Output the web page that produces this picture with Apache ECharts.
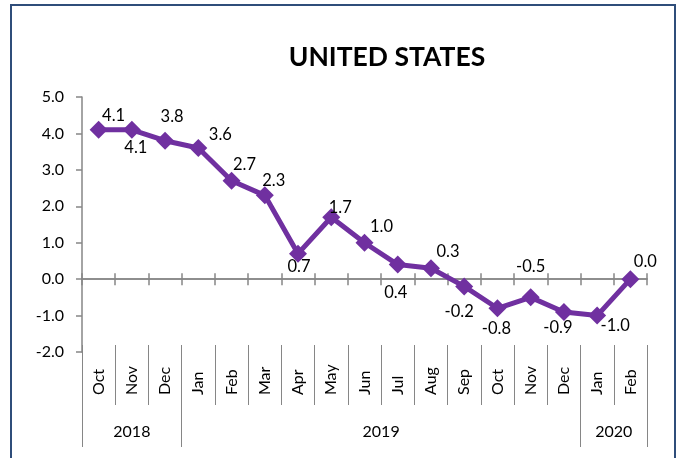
<!DOCTYPE html>
<html>
<head>
<meta charset="utf-8">
<script src="https://cdn.jsdelivr.net/npm/echarts@6/dist/echarts.min.js"></script>
<style>
  html, body { margin: 0; padding: 0; background: #fff; }
  #chart { position: absolute; left: 0; top: 0; width: 681px; height: 458px; }
  #frame { position: absolute; left: 10px; top: 4px; width: 666px; height: 470px; border: 2.5px solid #2f4d7a; box-sizing: border-box; pointer-events: none; z-index: 5; }
</style>
</head>
<body>
<div id="chart"></div>
<div id="frame"></div>
<script>
'use strict';
{
    // months shown on the category axis
    let months = ['Oct', 'Nov', 'Dec', 'Jan', 'Feb', 'Mar', 'Apr', 'May', 'Jun', 'Jul', 'Aug', 'Sep', 'Oct', 'Nov', 'Dec', 'Jan', 'Feb'];
    let values = [4.1, 4.1, 3.8, 3.6, 2.7, 2.3, 0.7, 1.7, 1.0, 0.4, 0.3, -0.2, -0.8, -0.5, -0.9, -1.0, 0.0];
    // year groups: label and index of the first month of each group
    let years = ['2018', '2019', '2020'];
    let yearStart = [0, 3, 15, 17];

    // where each data label sits relative to its point
    let labelOffset = [[15, -14], [4, 18], [7, -24], [22, -13], [13, -16], [9, -15], [1, 13], [9, -10], [17, -16],
        [-2, 28], [17, -17], [-5, 25], [-1, 20], [0, -31], [-6, 16], [18, 10], [15, -17]];

    let dom = document.getElementById('chart');
    let myChart = echarts.init(dom);
    let font = 'Lato';
    let grey = '#868686';

    let yearMid = [];
    for (let k = 0; k < years.length; k++) {
        yearMid.push((yearStart[k] + yearStart[k + 1]) / 2);
    }

    let option = {
        backgroundColor: '#fff',
        textStyle: { fontFamily: font },
        title: {
            text: 'UNITED STATES',
            left: 382,
            top: 39,
            textAlign: 'center',
            textStyle: { fontFamily: font, fontSize: 26.5, fontWeight: 'bold', color: '#000' }
        },
        grid: { left: 82, right: 34, top: 97, bottom: 106 },
        xAxis: [
            {
                // zero line, ticks pointing down
                type: 'category',
                data: months,
                position: 'bottom',
                axisLine: { onZero: true, onZeroAxisIndex: 0, lineStyle: { color: grey, width: 1.5 } },
                axisTick: { show: true, length: 6, lineStyle: { color: grey, width: 1.5 } },
                axisLabel: { show: false }
            },
            {
                // zero line, ticks pointing up
                type: 'category',
                data: months,
                position: 'top',
                axisLine: { onZero: true, onZeroAxisIndex: 1, lineStyle: { color: grey, width: 1.5 } },
                axisTick: { show: true, length: 6, lineStyle: { color: grey, width: 1.5 } },
                axisLabel: { show: false }
            },
            {
                // month labels below the plot
                type: 'category',
                data: months,
                position: 'bottom',
                offset: -7,
                axisLine: { show: false, onZero: false },
                axisTick: { show: true, length: 60, lineStyle: { color: grey, width: 1 } },
                axisLabel: { rotate: 90, align: 'left', margin: 50, fontSize: 16, color: '#000', fontFamily: font }
            },
            {
                // year groups
                type: 'value',
                min: 0,
                max: months.length,
                position: 'bottom',
                offset: -7,
                splitLine: { show: false },
                axisLine: { show: false, onZero: false },
                axisTick: { show: true, length: 102, customValues: yearStart, lineStyle: { color: grey, width: 1 } },
                axisLabel: {
                    margin: 79,
                    fontSize: 16,
                    color: '#000',
                    fontFamily: font,
                    customValues: yearMid,
                    formatter: function (v) {
                        let idx = yearMid.indexOf(v);
                        return idx >= 0 ? years[idx] : '';
                    }
                }
            }
        ],
        yAxis: [
            {
                type: 'value',
                min: -2,
                max: 5,
                interval: 1,
                position: 'left',
                splitLine: { show: false },
                axisLine: { show: true, onZero: false, lineStyle: { color: grey, width: 1.5 } },
                axisTick: { show: true, length: 6, lineStyle: { color: grey, width: 1.5 } },
                axisLabel: {
                    margin: 18,
                    fontSize: 16,
                    color: '#000',
                    fontFamily: font,
                    formatter: function (v) { return v.toFixed(1); }
                }
            },
            {
                // hidden twin, only so the second zero line can sit on it
                type: 'value',
                min: -2,
                max: 5,
                interval: 1,
                position: 'right',
                splitLine: { show: false },
                axisLine: { show: false, onZero: false },
                axisTick: { show: false },
                axisLabel: { show: false }
            }
        ],
        series: [{
            type: 'line',
            xAxisIndex: 0,
            yAxisIndex: 0,
            data: values.map(function (v, i) {
                return { value: v, label: { offset: labelOffset[i] } };
            }),
            symbol: 'diamond',
            symbolSize: 18,
            lineStyle: { color: '#7030a0', width: 5 },
            itemStyle: { color: '#7030a0' },
            label: {
                show: true,
                position: 'inside',
                fontSize: 16.5,
                color: '#000',
                fontFamily: font,
                formatter: function (p) { return p.value.toFixed(1); }
            },
            animation: false
        }],
        animation: false
    };
    myChart.setOption(option);
}
</script>
</body>
</html>
